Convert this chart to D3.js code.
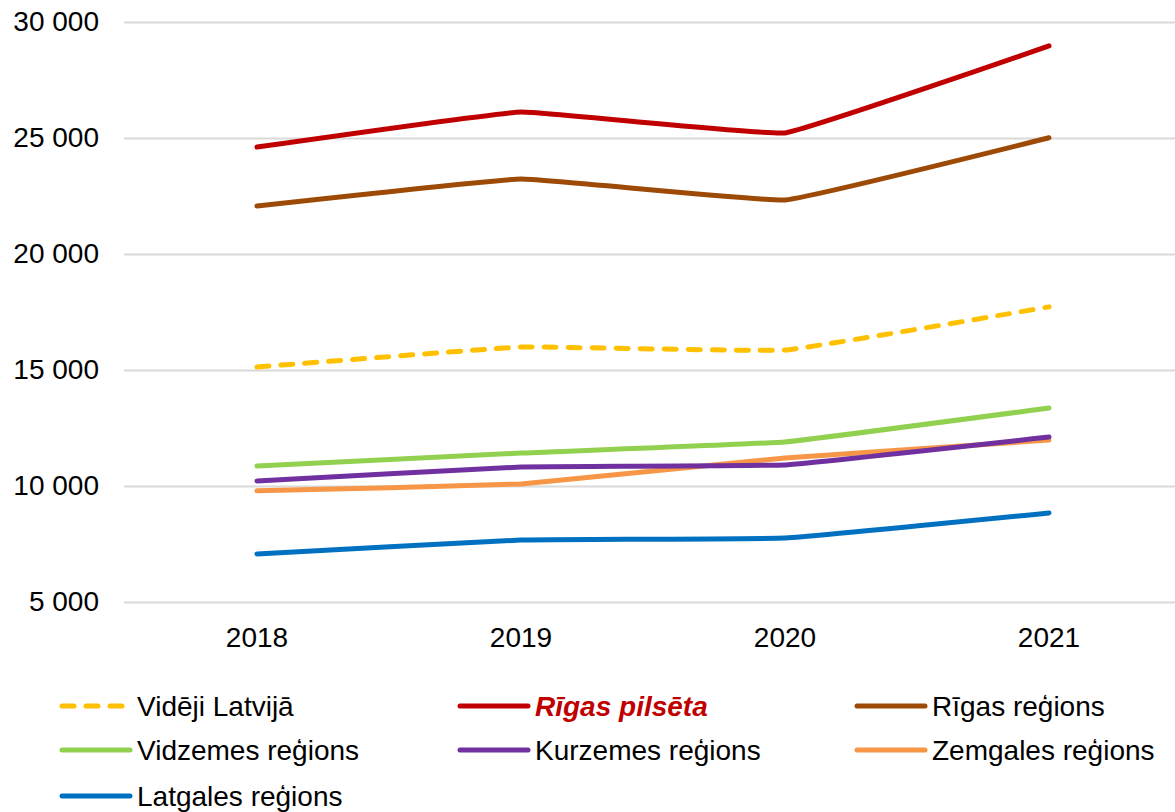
<!DOCTYPE html>
<html>
<head>
<meta charset="utf-8">
<script src="https://cdn.jsdelivr.net/npm/d3@7"></script>
<style>
  body { margin: 0; background: #fff; }
  text { font-family: "Liberation Sans", Arial, sans-serif; fill: #000; }
</style>
</head>
<body>
<div id="main"></div>
<script>
// chart data
var years = ["2018", "2019", "2020", "2021"];
var yTicks = [5000, 10000, 15000, 20000, 25000, 30000];

var seriesNames = ["Vidēji Latvijā", "Rīgas pilsēta", "Rīgas reģions", "Vidzemes reģions",
    "Kurzemes reģions", "Zemgales reģions", "Latgales reģions"];
var seriesColors = ["#ffc000", "#c00000", "#9c4a06", "#92d050", "#7030a0", "#f79646", "#0070c0"];

var videjiLatvija = [15130, 15990, 15860, 17720];
var rigasPilseta = [24610, 26120, 25220, 28970];
var rigasRegions = [22070, 23230, 22330, 25010];
var vidzemesRegions = [10860, 11420, 11900, 13360];
var kurzemesRegions = [10220, 10820, 10910, 12110];
var zemgalesRegions = [9790, 10090, 11210, 11980];
var latgalesRegions = [7070, 7670, 7760, 8840];

var seriesValues = [videjiLatvija, rigasPilseta, rigasRegions, vidzemesRegions,
    kurzemesRegions, zemgalesRegions, latgalesRegions];

var width = 1175, height = 812;

var svg = d3.select("#main")
    .append("svg")
    .attr("width", width)
    .attr("height", height);

// scales
var xScale = d3.scaleBand()
    .domain(years)
    .range([125, 1181]);

var yScale = d3.scaleLinear()
    .domain([5000, 30000])
    .range([602, 22]);

var fmt = function (d) { return d3.format(",")(d).replace(",", " "); };

// gridlines + y labels
var yAxis = svg.append("g")
    .attr("transform", "translate(124,0)")
    .call(d3.axisLeft(yScale).tickValues(yTicks).tickSize(-1060).tickPadding(25).tickFormat(fmt));
yAxis.select(".domain").remove();
yAxis.selectAll(".tick line").attr("stroke", "#d9d9d9").attr("stroke-width", 2);
yAxis.selectAll(".tick text")
    .style("font-size", "28px")
    .attr("font-family", null);

// x labels
var xAxis = svg.append("g")
    .attr("transform", "translate(0,619)")
    .call(d3.axisBottom(xScale).tickSize(0).tickPadding(3));
xAxis.select(".domain").remove();
xAxis.selectAll(".tick text")
    .style("font-size", "28px")
    .attr("font-family", null)
    .attr("dy", "0.9em");

var line = d3.line()
    .x(function (d, i) { return xScale(years[i]) + xScale.bandwidth() / 2; })
    .y(function (d) { return yScale(d); })
    .curve(d3.curveCardinal.tension(0.75));

// draw from last to first so the red / average lines sit on top
var order = [6, 5, 4, 3, 2, 0, 1];
order.forEach(function (k) {
    svg.append("path")
        .datum(seriesValues[k])
        .attr("fill", "none")
        .attr("stroke", seriesColors[k])
        .attr("stroke-width", 5)
        .attr("stroke-linecap", "round")
        .attr("stroke-linejoin", "round")
        .attr("stroke-dasharray", k === 0 ? "12,12" : null)
        .attr("d", line);
});

// legend
var legendCols = [60, 458, 855];
var legendRows = [706, 750, 796];

var legend = svg.selectAll(".legend-item")
    .data(seriesNames)
    .enter()
    .append("g")
    .attr("class", "legend-item")
    .attr("transform", function (d, i) {
        return "translate(" + legendCols[i % 3] + "," + legendRows[Math.floor(i / 3)] + ")";
    });

legend.append("line")
    .attr("x1", 2).attr("x2", 70)
    .attr("y1", 0).attr("y2", 0)
    .attr("stroke", function (d, i) { return seriesColors[i]; })
    .attr("stroke-width", 5)
    .attr("stroke-linecap", "round")
    .attr("stroke-dasharray", function (d, i) { return i === 0 ? "12,12" : null; });

legend.append("text")
    .attr("x", 77)
    .attr("y", 10)
    .style("font-size", "28px")
    .style("font-weight", function (d, i) { return i === 1 ? "bold" : "normal"; })
    .style("font-style", function (d, i) { return i === 1 ? "italic" : "normal"; })
    .style("fill", function (d, i) { return i === 1 ? "#c00000" : "#000"; })
    .text(function (d) { return d; });
</script>
</body>
</html>
